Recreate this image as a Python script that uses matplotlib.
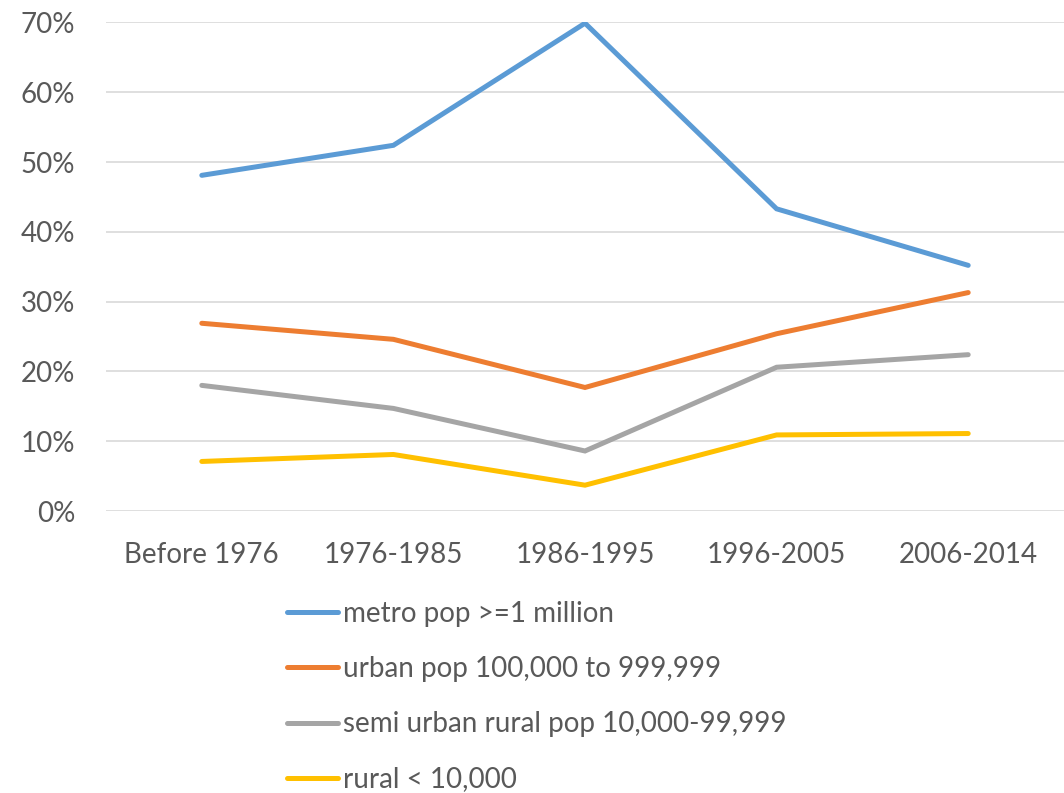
import numpy as np
import matplotlib.pyplot as plt
from matplotlib.ticker import PercentFormatter

periods = ["Before 1976", "1976-1985", "1986-1995", "1996-2005", "2006-2014"]
metro = [48.1, 52.4, 69.9, 43.3, 35.2]
urban = [26.9, 24.6, 17.7, 25.4, 31.3]
semi_urban = [18.0, 14.7, 8.6, 20.6, 22.4]
rural = [7.1, 8.1, 3.7, 10.9, 11.1]

labels = ["metro pop >=1 million", "urban pop 100,000 to 999,999",
          "semi urban rural pop 10,000-99,999", "rural < 10,000"]
colors = ["#5B9BD5", "#ED7D31", "#A5A5A5", "#FFC000"]

plt.rcParams['font.family'] = ['Lato', 'DejaVu Sans']
txt = "#595959"

fig = plt.figure(figsize=(10.64, 7.93), dpi=100)
ax = fig.add_axes([106/1064, 1 - 511/793, 1 - 106/1064, (511 - 22.5)/793])

x = np.arange(len(periods))
for vals, lab, c in zip([metro, urban, semi_urban, rural], labels, colors):
    ax.plot(x, np.array(vals)/100, color=c, lw=3.6, label=lab,
            solid_capstyle='round', solid_joinstyle='miter')

ax.set_xlim(-0.5, 4.5)
ax.set_ylim(0, 0.7)
ax.set_yticks(np.arange(0, 0.71, 0.1))
ax.yaxis.set_major_formatter(PercentFormatter(1.0, decimals=0))
ax.set_xticks(x)
ax.set_xticklabels(periods)
ax.grid(axis='y', color='#D9D9D9', lw=1.2)
ax.set_axisbelow(True)
for s in ax.spines.values():
    s.set_visible(False)
ax.tick_params(axis='both', length=0, labelsize=20, labelcolor=txt)
ax.tick_params(axis='y', pad=22)
ax.tick_params(axis='x', pad=22)

leg = ax.legend(loc='upper left', bbox_to_anchor=(287/1064, 1 - 601/793),
                bbox_transform=fig.transFigure, frameon=False, fontsize=20,
                handlelength=1.85, handletextpad=0.15, labelspacing=1.05,
                borderpad=0, borderaxespad=0)
for t in leg.get_texts():
    t.set_color(txt)

fig.savefig("out.png", dpi=100)
